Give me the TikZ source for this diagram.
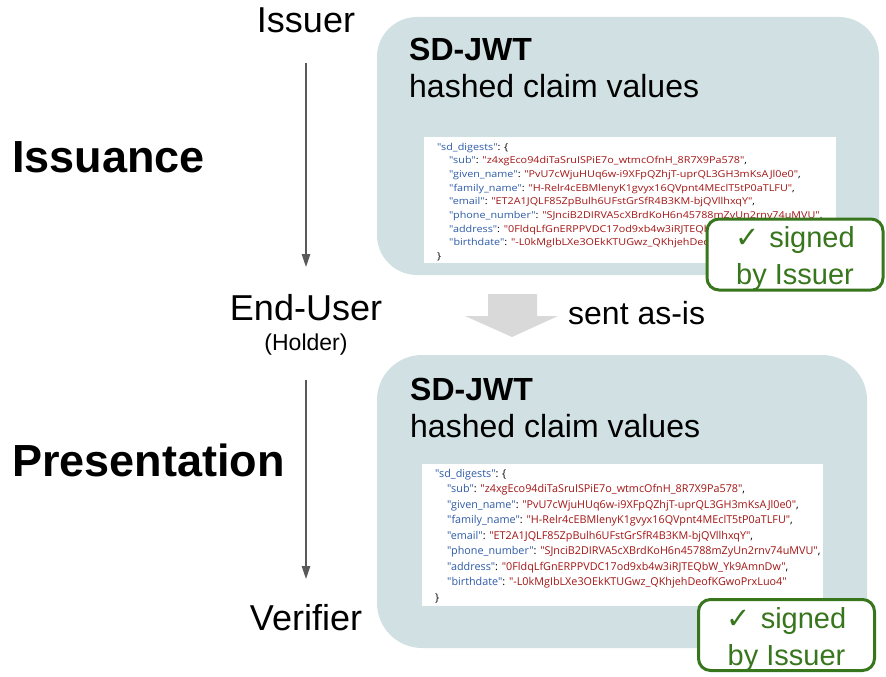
\documentclass[tikz,border=0pt]{standalone}
\usepackage{fontspec}
\setmainfont{Liberation Sans}
\newfontfamily\codefont{Open Sans}
\newfontfamily\symfont{DejaVu Sans}
\usetikzlibrary{arrows.meta}
\definecolor{boxfill}{HTML}{D0E0E3}
\definecolor{sgreen}{HTML}{38761D}
\definecolor{arrgray}{HTML}{595959}
\definecolor{bigarrow}{HTML}{D9D9D9}
\definecolor{jkey}{HTML}{2E5BA8}
\definecolor{jval}{HTML}{A31515}
\newcommand{\jk}[1]{\textcolor{jkey}{"#1"}}
\newcommand{\jv}[1]{\textcolor{jval}{"#1"}}
\newcommand{\jind}{\hspace*{12pt}}
\newcommand{\sdjson}{%
\begin{tabular}{@{}l@{}}
\jk{sd\_digests}: \{\\
\jind\jk{sub}: \jv{z4xgEco94diTaSruISPiE7o\_wtmcOfnH\_8R7X9Pa578},\\
\jind\jk{given\_name}: \jv{PvU7cWjuHUq6w-i9XFpQZhjT-uprQL3GH3mKsAJl0e0},\\
\jind\jk{family\_name}: \jv{H-Relr4cEBMlenyK1gvyx16QVpnt4MEclT5tP0aTLFU},\\
\jind\jk{email}: \jv{ET2A1JQLF85ZpBulh6UFstGrSfR4B3KM-bjQVllhxqY},\\
\jind\jk{phone\_number}: \jv{SJnciB2DIRVA5cXBrdKoH6n45788mZyUn2rnv74uMVU},\\
\jind\jk{address}: \jv{0FldqLfGnERPPVDC17od9xb4w3iRJTEQbW\_Yk9AmnDw},\\
\jind\jk{birthdate}: \jv{-L0kMgIbLXe3OEkKTUGwz\_QKhjehDeofKGwoPrxLuo4}\\
\}
\end{tabular}}
\begin{document}
\begin{tikzpicture}[x=1pt,y=-1pt,
  lbl/.style={inner sep=0pt, anchor=base, font=\fontsize{36}{40}\selectfont},
  phase/.style={inner sep=0pt, anchor=base west, font=\fontsize{45}{50}\selectfont\bfseries},
  ttl/.style={inner sep=0pt, anchor=base west, font=\fontsize{32}{36}\selectfont\bfseries},
  sub/.style={inner sep=0pt, anchor=base west, font=\fontsize{32}{36}\selectfont},
  bigbox/.style={fill=boxfill, draw=none, rounded corners=40pt},
  coderect/.style={fill=white, draw=none},
  codetext/.style={inner sep=0pt, anchor=north west, font=\codefont\fontsize{10.8}{15.5}\selectfont},
  signbox/.style={draw=sgreen, line width=3pt, fill=white, rounded corners=12pt,
     minimum width=176pt, minimum height=71pt, inner sep=0pt},
  signtext/.style={inner sep=0pt, align=center, text=sgreen, font=\fontsize{29}{37}\selectfont},
  flow/.style={draw=arrgray, line width=1.3pt, -{Triangle[length=13pt,width=8.5pt]}}
]
\useasboundingbox (0,0) rectangle (886,677);

% side labels
\node[lbl] (issuer) at (306,33) {Issuer};
\node[lbl] (enduser) at (306,320) {End-User};
\node[inner sep=0pt, anchor=base, font=\fontsize{23}{25}\selectfont] (holder) at (306,350) {(Holder)};
\node[lbl] (verifier) at (306,630) {Verifier};
\node[phase] (issuance) at (12,172) {Issuance};
\node[phase] (presentation) at (12,476) {Presentation};

\coordinate (a1s) at (306,63);
\coordinate (a1e) at (306,267);
\coordinate (a2s) at (306,380);
\coordinate (a2e) at (306,579);
\draw[flow] (a1s) -- (a1e);
\draw[flow] (a2s) -- (a2e);

% top box
\path[bigbox] (377,17) rectangle (879,275);
\node[ttl] (t1) at (409,61) {SD-JWT};
\node[sub] (h1) at (409,97) {hashed claim values};
\path[coderect] (424,137) rectangle (836,263);
\node[codetext] (c1) at (437,140.5) {\scalebox{1}[0.88]{\sdjson}};
\node[signbox] (s1) at (795,254.5) {};
\node[signtext] (s1t) at ([yshift=-4pt]s1.center) {{\symfont ✓}\,\,signed\\by Issuer};

% big grey arrow
\fill[bigarrow] (488,294) -- (537,294) -- (537,316) -- (558,316) -- (512,337) -- (465,316) -- (488,316) -- cycle;
\node[sub] (sent) at (568,324) {sent as-is};

% bottom box
\path[bigbox, rounded corners=45pt] (377,355) rectangle (867,648);
\node[ttl] (t2) at (410,400) {SD-JWT};
\node[sub] (h2) at (410,437) {hashed claim values};
\path[coderect] (422,464) rectangle (823,606);
\node[codetext] (c2) at (435,466) {\sdjson};
\node[signbox] (s2) at (786.5,635) {};
\node[signtext] (s2t) at ([yshift=-4pt]s2.center) {{\symfont ✓}\,\,signed\\by Issuer};
\end{tikzpicture}
\end{document}
